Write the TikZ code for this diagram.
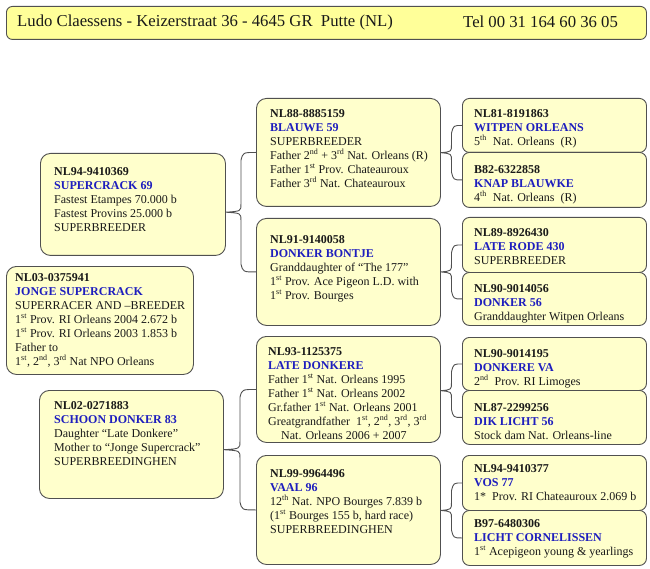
\documentclass[tikz,border=0pt]{standalone}
\usepackage{fontspec}
\setmainfont{Liberation Serif}
\usetikzlibrary{calc}
\definecolor{boxfill}{RGB}{255,255,204}
\definecolor{headfill}{RGB}{255,255,153}
\definecolor{edgecol}{RGB}{80,80,80}
\definecolor{namecol}{RGB}{30,30,190}
\definecolor{bodycol}{RGB}{25,25,25}
\newcommand\nm[1]{\textbf{\textcolor{namecol}{#1}}}
\newcommand\su[1]{\textsuperscript{#1}}
\tikzset{
  box/.style={draw=edgecol, line width=0.9pt, fill=boxfill, rounded corners=10pt, anchor=north west, inner sep=0pt},
  hbox/.style={box, fill=headfill, rounded corners=6pt},
  rbox/.style={box, rounded corners=7pt},
  txt/.style={anchor=north west, inner sep=0pt, align=left, text=bodycol, font=\fontsize{12}{14}\selectfont},
  htxt/.style={anchor=west, inner sep=0pt, text=bodycol, font=\fontsize{16.7}{18}\selectfont},
  conn/.style={draw=edgecol, line width=0.9pt},
}
\newcommand\famline[3]{%
  \draw[conn] let \p1=(#2.west), \p2=(#3.west), \p3=(#1.east),
    \n1={(\y1+\y2)/2}, \n2={(\x1+\x3)/2}, \n3={min(8pt,(\y1-\y2)/5)} in
    (\p1) .. controls (\n2+2pt,\y1) .. (\n2,\y1-\n3) -- (\n2,\n1+\n3)
      .. controls (\n2,\n1+1pt) .. (\x3,\n1)
    (\x3,\n1) .. controls (\n2,\n1-1pt) .. (\n2,\n1-\n3) -- (\n2,\y2+\n3)
      .. controls (\n2+2pt,\y2) .. (\p2);
}
\begin{document}
\begin{tikzpicture}[x=1pt,y=-1pt]
\useasboundingbox (0,0) rectangle (650,569);
% header
\node[hbox, minimum width=640pt, minimum height=33pt] (hd) at (6,6) {};
\node[htxt] (hdl) at (17,22) {Ludo Claessens - Keizerstraat 36 - 4645 GR\ \ Putte (NL)};
\node[htxt] (hdr) at (463,22) {Tel 00 31 164 60 36 05};
% generation 1
\node[box, minimum width=185pt, minimum height=102pt] (sc) at (40,153) {};
\node[txt] (sct) at (54,167) {\textbf{NL94-9410369}\\ \nm{SUPERCRACK 69}\\ Fastest Etampes 70.000 b\\ Fastest Provins 25.000 b\\ SUPERBREEDER};
\node[box, minimum width=187pt, minimum height=108pt] (js) at (6,266) {};
\node[txt] (jst) at (15,273) {\textbf{NL03-0375941}\\ \nm{JONGE SUPERCRACK}\\ SUPERRACER AND –BREEDER\\ 1\su{st} Prov. RI Orleans 2004 2.672 b\\ 1\su{st} Prov. RI Orleans 2003 1.853 b\\ Father to\\ 1\su{st}, 2\su{nd}, 3\su{rd} Nat NPO Orleans};
\node[box, minimum width=184pt, minimum height=108pt] (sd) at (39,390) {};
\node[txt] (sdt) at (54,401) {\textbf{NL02-0271883}\\ \nm{SCHOON DONKER 83}\\ Daughter “Late Donkere”\\ Mother to “Jonge Supercrack”\\ SUPERBREEDINGHEN};
% generation 2
\node[box, minimum width=184pt, minimum height=108pt] (bl) at (256,98) {};
\node[txt] (blt) at (270,109) {\textbf{NL88-8885159}\\ \nm{BLAUWE 59}\\ SUPERBREEDER\\ Father 2\su{nd} + 3\su{rd} Nat. Orleans (R)\\ Father 1\su{st} Prov. Chateauroux\\ Father 3\su{rd} Nat. Chateauroux};
\node[box, minimum width=184pt, minimum height=107pt] (db) at (256,218) {};
\node[txt] (dbt) at (270,235) {\textbf{NL91-9140058}\\ \nm{DONKER BONTJE}\\ Granddaughter of “The 177”\\ 1\su{st} Prov. Ace Pigeon L.D. with\\ 1\su{st} Prov. Bourges};
\node[box, minimum width=184pt, minimum height=106pt] (ld) at (256,336) {};
\node[txt] (ldt) at (268,347) {\textbf{NL93-1125375}\\ \nm{LATE DONKERE}\\ Father 1\su{st} Nat. Orleans 1995\\ Father 1\su{st} Nat. Orleans 2002\\ Gr.father 1\su{st} Nat. Orleans 2001\\ Greatgrandfather\ \ 1\su{st}, 2\su{nd}, 3\su{rd}, 3\su{rd}\\ \hspace*{13pt}Nat. Orleans 2006 + 2007};
\node[box, minimum width=184pt, minimum height=109pt] (va) at (256,455) {};
\node[txt] (vat) at (270,469) {\textbf{NL99-9964496}\\ \nm{VAAL 96}\\ 12\su{th} Nat. NPO Bourges 7.839 b\\ (1\su{st} Bourges 155 b, hard race)\\ SUPERBREEDINGHEN};
% generation 3
\node[rbox, minimum width=184pt, minimum height=54pt] (wo) at (462,98) {};
\node[txt] (wot) at (474,109) {\textbf{NL81-8191863}\\ \nm{WITPEN ORLEANS}\\ 5\su{th}\ \ Nat. Orleans\ \ (R)};
\node[rbox, minimum width=184pt, minimum height=55pt] (kb) at (462,152) {};
\node[txt] (kbt) at (474,165) {\textbf{B82-6322858}\\ \nm{KNAP BLAUWKE}\\ 4\su{th}\ \ Nat. Orleans\ \ (R)};
\node[rbox, minimum width=184pt, minimum height=55pt] (lr) at (462,217) {};
\node[txt] (lrt) at (474,228) {\textbf{NL89-8926430}\\ \nm{LATE RODE 430}\\ SUPERBREEDER};
\node[rbox, minimum width=184pt, minimum height=53pt] (dn) at (462,272) {};
\node[txt] (dnt) at (474,284) {\textbf{NL90-9014056}\\ \nm{DONKER 56}\\ Granddaughter Witpen Orleans};
\node[rbox, minimum width=184pt, minimum height=53pt] (dv) at (462,337) {};
\node[txt] (dvt) at (474,349) {\textbf{NL90-9014195}\\ \nm{DONKERE VA}\\ 2\su{nd}\ \ Prov. RI Limoges};
\node[rbox, minimum width=184pt, minimum height=54pt] (dl) at (462,390) {};
\node[txt] (dlt) at (474,403) {\textbf{NL87-2299256}\\ \nm{DIK LICHT 56}\\ Stock dam Nat. Orleans-line};
\node[rbox, minimum width=184pt, minimum height=55pt] (vo) at (462,455) {};
\node[txt] (vot) at (474,464) {\textbf{NL94-9410377}\\ \nm{VOS 77}\\ 1*\ \ Prov. RI Chateauroux 2.069 b};
\node[rbox, minimum width=184pt, minimum height=55pt] (lc) at (462,510) {};
\node[txt] (lct) at (474,519) {\textbf{B97-6480306}\\ \nm{LICHT CORNELISSEN}\\ 1\su{st} Acepigeon young \& yearlings};
% connectors
\famline{sc}{bl}{db}
\famline{sd}{ld}{va}
\famline{bl}{wo}{kb}
\famline{db}{lr}{dn}
\famline{ld}{dv}{dl}
\famline{va}{vo}{lc}
\end{tikzpicture}
\end{document}
